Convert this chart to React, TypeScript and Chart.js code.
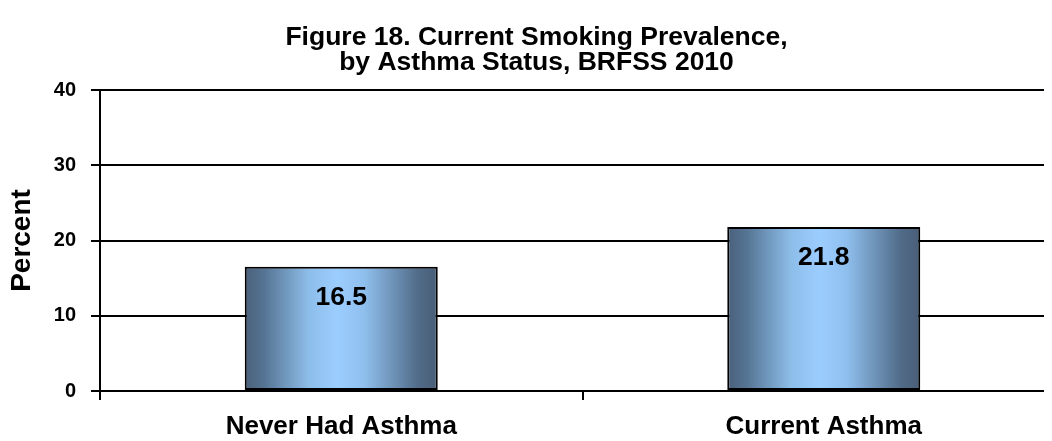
import React, { useEffect, useRef } from "react";
import { Chart, registerables } from "chart.js";

Chart.register(...registerables);

const titleLines = ["Figure 18. Current Smoking Prevalence,", "by Asthma Status, BRFSS 2010"];
const categories = ["Never Had Asthma", "Current Asthma"];
const smokingPercent = [16.5, 21.8];
const yTicks = [0, 10, 20, 30, 40];
const yAxisTitle = "Percent";

const FONT = "'Liberation Sans', Arial, Helvetica, sans-serif";
const BAR_FRACTION = 0.4;

const valueLabelPlugin = {
  id: "valueLabels",
  afterDatasetsDraw(chart: any) {
    const ctx = chart.ctx;
    const meta = chart.getDatasetMeta(0);
    ctx.save();
    ctx.font = `bold 26.5px ${FONT}`;
    ctx.fillStyle = "#000";
    ctx.textAlign = "center";
    ctx.textBaseline = "middle";
    meta.data.forEach((bar: any, i: number) => {
      ctx.fillText(smokingPercent[i].toFixed(1), bar.x, bar.y + 31);
    });
    ctx.restore();
  },
};

export default function App() {
  const ref = useRef<HTMLCanvasElement | null>(null);

  useEffect(() => {
    if (!ref.current) return;
    const chart = new Chart(ref.current, {
      type: "bar",
      data: {
        labels: categories,
        datasets: [
          {
            data: smokingPercent,
            backgroundColor: (c: any) => {
              const ch = c.chart;
              const xs = ch.scales && ch.scales.x;
              if (!ch.chartArea || !xs || c.dataIndex === undefined) return "#7fa6cc";
              const cx = xs.getPixelForValue(c.dataIndex);
              const w = (xs.width / categories.length) * BAR_FRACTION;
              const g = ch.ctx.createLinearGradient(cx - w / 2, 0, cx + w / 2, 0);
              g.addColorStop(0, "#4a607a");
              g.addColorStop(0.1, "#557493");
              g.addColorStop(0.33, "#8dbde9");
              g.addColorStop(0.48, "#9bcdff");
              g.addColorStop(0.62, "#8fbfed");
              g.addColorStop(0.9, "#506b88");
              g.addColorStop(1, "#4a5e77");
              return g;
            },
            borderColor: "#000",
            borderWidth: 2,
            borderSkipped: false,
            categoryPercentage: 1,
            barPercentage: BAR_FRACTION,
          },
        ],
      },
      options: {
        animation: false,
        responsive: false,
        maintainAspectRatio: false,
        layout: { padding: { left: 0, right: 3, top: 0, bottom: 0 } },
        plugins: {
          legend: { display: false },
          tooltip: { enabled: false },
          title: {
            display: true,
            text: titleLines,
            color: "#000",
            font: { family: FONT, size: 26.5, weight: "bold", lineHeight: "25px" },
            padding: { top: 17.5, bottom: 14.5 },
          },
        },
        scales: {
          x: {
            offset: true,
            grid: {
              display: true,
              offset: true,
              drawOnChartArea: false,
              drawTicks: true,
              tickLength: 9,
              color: "#000",
              lineWidth: 2,
            },
            border: { display: true, color: "#000", width: 2 },
            ticks: {
              color: "#000",
              padding: 11,
              font: { family: FONT, size: 26, weight: "bold" },
              maxRotation: 0,
              autoSkip: false,
            },
            afterFit: (s: any) => {
              s.height = 50;
            },
          },
          y: {
            min: 0,
            max: 40,
            afterBuildTicks: (s: any) => {
              s.ticks = yTicks.map((v) => ({ value: v }));
            },
            grid: {
              color: "#000",
              lineWidth: 2,
              drawTicks: true,
              tickLength: 9,
            },
            border: { display: true, color: "#000", width: 2 },
            ticks: {
              color: "#000",
              padding: 15,
              font: { family: FONT, size: 20, weight: "bold" },
            },
            title: {
              display: true,
              text: yAxisTitle,
              color: "#000",
              font: { family: FONT, size: 28, weight: "bold", lineHeight: 1 },
              padding: { top: 0, bottom: 0 },
            },
            afterFit: (s: any) => {
              s.width = 92;
            },
          },
        },
      },
      plugins: [valueLabelPlugin],
    });
    return () => chart.destroy();
  }, []);

  return (
    <div style={{ width: 1044, height: 433, overflow: "hidden" }}>
      <canvas ref={ref} width={1060} height={433} style={{ display: "block", width: 1060, height: 433 }} />
    </div>
  );
}
